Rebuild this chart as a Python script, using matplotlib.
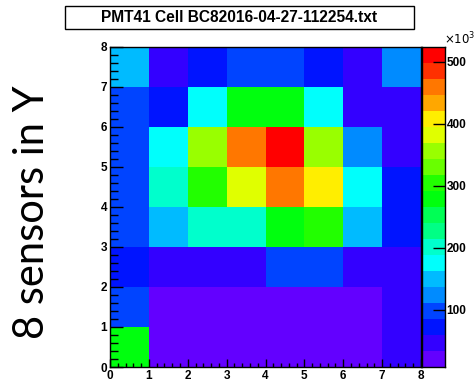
import colorsys
import numpy as np
import matplotlib
matplotlib.use("Agg")
import matplotlib.pyplot as plt
from matplotlib.colors import ListedColormap, BoundaryNorm
from matplotlib.patches import Rectangle
from matplotlib.ticker import MultipleLocator

# cell contents, units of 1e3 counts; rows are y = 0..7, columns x = 0..7
row_y0 = [280, 8, 14, 17, 18, 15, 12, 41]
row_y1 = [98, 20, 22, 25, 26, 22, 18, 47]
row_y2 = [72, 48, 52, 50, 100, 97, 46, 44]
row_y3 = [95, 150, 205, 200, 280, 305, 148, 70]
row_y4 = [99, 202, 300, 385, 460, 410, 178, 75]
row_y5 = [96, 176, 360, 458, 525, 355, 125, 45]
row_y6 = [92, 70, 175, 282, 275, 170, 52, 42]
row_y7 = [150, 45, 68, 94, 100, 73, 40, 128]

x_edges = [0, 1, 2, 3, 4, 5, 6, 7, 8]
y_edges = [0, 1, 2, 3, 4, 5, 6, 7, 8]
z_ticks = [100, 200, 300, 400, 500]

title = "PMT41 Cell BC82016-04-27-112254.txt"
side_label = "8 sensors in Y"

W, H = 477, 382

# ROOT "pretty" palette (SetPalette(1)) sampled for 20 contour levels
n_levels = 20
colors = []
for j in range(n_levels):
    idx = int((j + 0.99) * 50 / n_levels)
    hue = 280 - (idx + 1) * 5.6
    colors.append(colorsys.hls_to_rgb(hue / 360.0, 0.5, 1.0))
cmap = ListedColormap(colors)

z = np.array([row_y0, row_y1, row_y2, row_y3, row_y4, row_y5, row_y6, row_y7], dtype=float)
levels = np.linspace(z.min(), z.max(), n_levels + 1)
norm = BoundaryNorm(levels, cmap.N)


def frac(x0, y0, w, h):
    # pixel box (top-left origin) -> figure fraction rect
    return [x0 / W, 1 - (y0 + h) / H, w / W, h / H]


fig = plt.figure(figsize=(W / 100, H / 100), dpi=100)
fig.patch.set_facecolor("white")

ax = fig.add_axes(frac(110, 46.5, 311, 320.5))
ax.pcolormesh(x_edges, y_edges, z, cmap=cmap, norm=norm)
ax.set_xlim(0, 8)
ax.set_ylim(0, 8)
ax.xaxis.set_major_locator(MultipleLocator(1))
ax.yaxis.set_major_locator(MultipleLocator(1))
ax.xaxis.set_minor_locator(MultipleLocator(0.2))
ax.yaxis.set_minor_locator(MultipleLocator(0.2))
ax.tick_params(axis="x", which="major", direction="in", length=5.8, width=1, pad=2)
ax.tick_params(axis="x", which="minor", direction="in", length=3.0, width=1)
ax.tick_params(axis="y", which="major", direction="in", length=9.4, width=1, pad=2)
ax.tick_params(axis="y", which="minor", direction="in", length=5.4, width=1)
for lab in ax.get_xticklabels() + ax.get_yticklabels():
    lab.set_fontfamily("Liberation Sans")
    lab.set_fontweight("bold")
    lab.set_fontsize(8.5)
for sp in ax.spines.values():
    sp.set_linewidth(1)

# colour scale
cax = fig.add_axes(frac(422, 46.5, 23, 320.5))
cax.pcolormesh([0, 1], levels, np.array(levels[:-1] + 1e-6).reshape(-1, 1),
               cmap=cmap, norm=norm)
cax.set_xlim(0, 1)
cax.set_ylim(levels[0], levels[-1])
cax.set_xticks([])
cax.yaxis.tick_right()
cax.set_yticks(z_ticks)
cax.set_yticklabels([str(t) for t in z_ticks])
cax.tick_params(axis="y", direction="in", length=8.6, width=1, pad=1)
for lab in cax.get_yticklabels():
    lab.set_fontfamily("Liberation Sans")
    lab.set_fontweight("bold")
    lab.set_fontsize(8.5)
for sp in cax.spines.values():
    sp.set_linewidth(1)
fig.text(444 / W, 1 - 39 / H, r"$\times10^{3}$", fontsize=8.5, family="Liberation Sans",
         ha="left", va="center")

# title box
fig.patches.append(Rectangle((65 / W, 1 - 29 / H), 349 / W, 23 / H, transform=fig.transFigure,
                             facecolor="white", edgecolor="black", linewidth=1))
fig.text(239.5 / W, 1 - 17.5 / H, title, ha="center", va="center",
         family="Liberation Sans", fontweight="bold", fontsize=11.2)

fig.text(32 / W, 1 - 212 / H, side_label, rotation=90, ha="center", va="center",
         family="Lato", fontsize=30)

fig.savefig("out.png", dpi=100)
